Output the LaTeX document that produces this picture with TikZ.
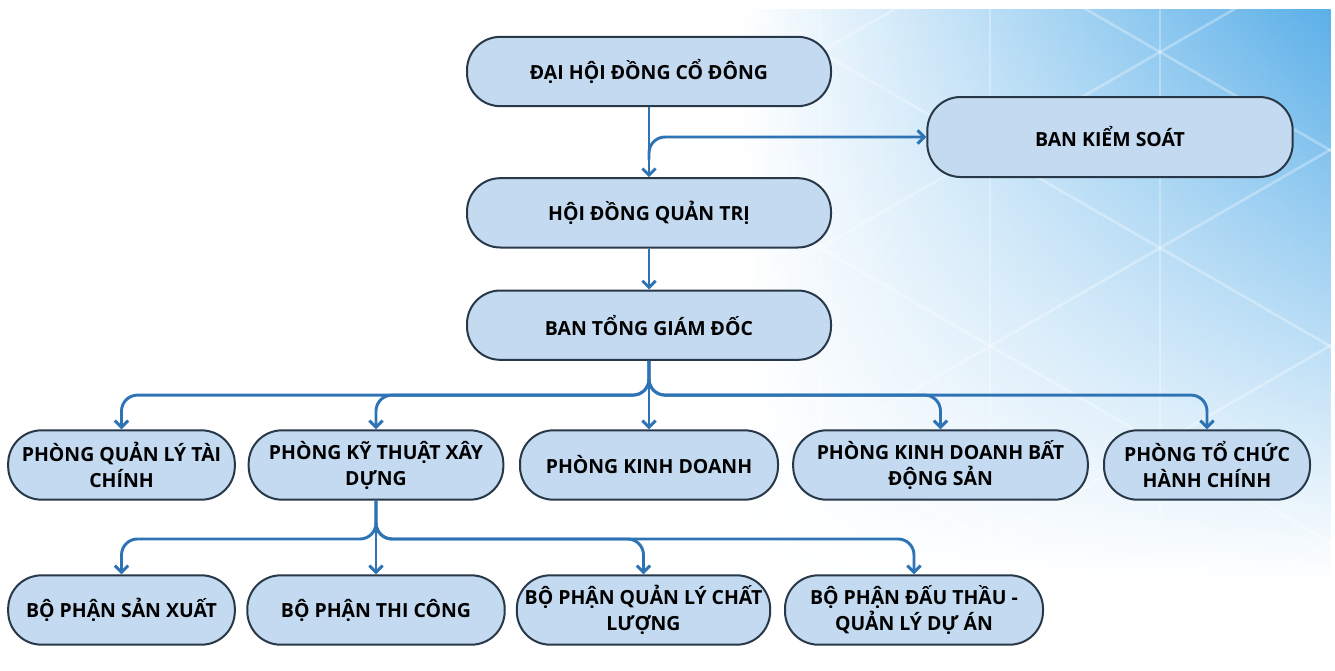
\documentclass[tikz,border=0pt]{standalone}
\usepackage{fontspec}
\setmainfont{Open Sans}
\usetikzlibrary{positioning,arrows.meta,fadings,calc}

\definecolor{boxfill}{HTML}{C3DAF1}
\definecolor{boxline}{HTML}{283848}
\definecolor{linkblue}{HTML}{2E74B5}
\definecolor{bgblue}{HTML}{5AAFE8}
\tikzfading[name=bgfade, top color=transparent!0, middle color=transparent!25, bottom color=transparent!100]

\begin{document}
\begin{tikzpicture}[
    x=0.75pt, y=-0.75pt,
    box/.style={rectangle, draw=boxline, fill=boxfill, line width=1.5pt, rounded corners=25pt, minimum height=52pt, inner xsep=1pt, align=center, font=\bfseries\fontsize{14.6}{19.5}\selectfont, text=black},
    arrow/.style={-{Straight Barb[length=5pt,width=10pt]}, draw=linkblue, line width=2.2pt, rounded corners=12pt},
    hexline/.style={white, opacity=0.3, line width=2pt}
]
\useasboundingbox (0,0) rectangle (1335,671);

% background
\shade[left color=white, right color=bgblue, path fading=bgfade] (740,9) rectangle (1331,580);
\begin{scope}
\clip (740,9) rectangle (1331,580);
\foreach \k in {-3,...,3} {
    \draw[hexline] (740,{52+0.577*(740-1160)+196*\k}) -- (1335,{52+0.577*(1335-1160)+196*\k});
    \draw[hexline] (740,{52-0.577*(740-1160)+196*\k}) -- (1335,{52-0.577*(1335-1160)+196*\k});
}
\foreach \x in {820,990,1160} \draw[hexline] (\x,9) -- (\x,580);
\end{scope}

% top of the chart
\node[box, minimum width=273pt] (dhdcd) at (649,71.5) {ĐẠI HỘI ĐỒNG CỔ ĐÔNG};
\node[box, minimum width=273pt, below=52.5pt of dhdcd] (hdqt) {HỘI ĐỒNG QUẢN TRỊ};
\node[box, minimum width=273pt, below=30.75pt of hdqt] (btgd) {BAN TỔNG GIÁM ĐỐC};
\node[box, minimum width=274pt, minimum height=60pt] (bks) at (1110,137) {BAN KIỂM SOÁT};

% departments
\node[box, minimum width=170pt] (pqltc) at (121.5,465) {PHÒNG QUẢN LÝ TÀI\\CHÍNH};
\node[box, minimum width=191pt] (pktxd) at (376,465) {PHÒNG KỸ THUẬT XÂY\\DỰNG};
\node[box, minimum width=193.5pt] (pkd) at (649,465) {PHÒNG KINH DOANH};
\node[box, minimum width=221pt] (pkdbds) at (940.5,465) {PHÒNG KINH DOANH BẤT\\ĐỘNG SẢN};
\node[box, minimum width=154.5pt] (ptchc) at (1207,465) {PHÒNG TỔ CHỨC\\HÀNH CHÍNH};

% units
\node[box, minimum width=170pt] (bpsx) at (121.5,610) {BỘ PHẬN SẢN XUẤT};
\node[box, minimum width=193pt] (bptc) at (376,610) {BỘ PHẬN THI CÔNG};
\node[box, minimum width=190pt] (bpqlcl) at (643.5,610) {BỘ PHẬN QUẢN LÝ CHẤT\\LƯỢNG};
\node[box, minimum width=193.5pt] (bpdt) at (914,610) {BỘ PHẬN ĐẤU THẦU -\\QUẢN LÝ DỰ ÁN};

\coordinate (fork1) at ($(dhdcd.south)!0.75!(hdqt.north)$);
\coordinate (bus2) at ($(btgd.south)!0.5!(pkd.north)$);
\coordinate (bus3) at ($(pktxd.south)!0.52!(bptc.north)$);

\draw[arrow] (dhdcd) -- (hdqt);
\draw[arrow] (fork1) |- (bks.west);
\draw[arrow] (hdqt) -- (btgd);

\draw[arrow] (btgd) -- (pkd);
\foreach \dep in {pqltc,pktxd,pkdbds,ptchc}
    \draw[arrow] (btgd.south) -- (bus2) -| (\dep.north);

\draw[arrow] (pktxd) -- (bptc);
\foreach \unit in {bpsx,bpqlcl,bpdt}
    \draw[arrow] (pktxd.south) -- (bus3) -| (\unit.north);

\end{tikzpicture}
\end{document}
